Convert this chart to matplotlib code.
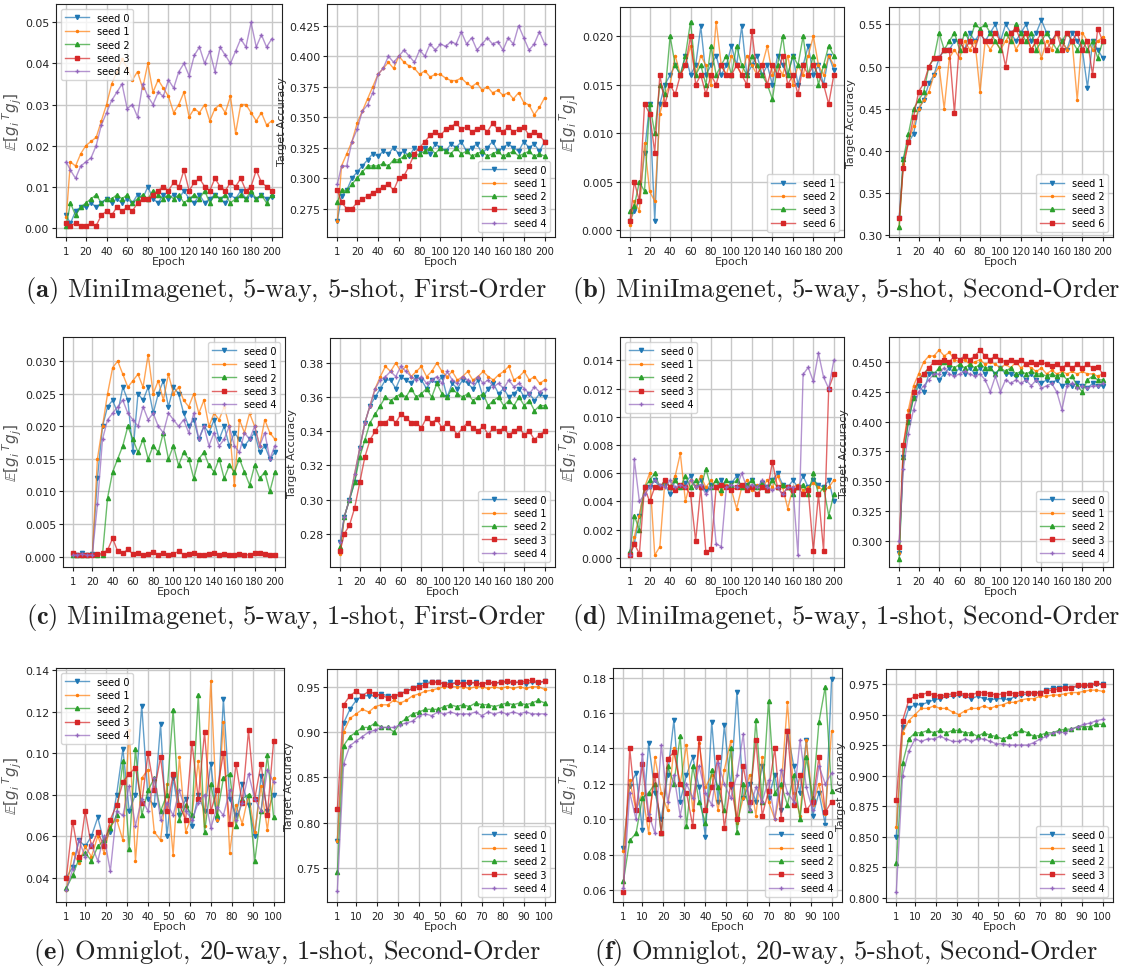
import matplotlib
matplotlib.use('Agg')
import matplotlib.pyplot as plt

ep200 = [1] + list(range(5, 201, 5))
ep100 = list(range(1, 101, 3))

# gradient alignment values are in units of 1e-3
a_grad = [
    [3, 1, 4, 5, 5, 6, 5, 6, 7, 6, 7, 6, 7, 6, 8, 7, 10, 7, 6, 8, 7, 8, 7, 9, 7, 6, 8, 6, 7, 8, 7, 6, 8, 7, 9, 7, 8, 7, 8, 7, 7.5],
    [2.5, 16, 15, 18, 20, 21, 22, 26, 30, 35, 38, 41, 39, 36, 38, 34, 40, 33, 36, 34, 32, 28, 30, 33, 27, 29, 28, 30, 26, 29, 30, 28, 32, 23, 30, 30, 28, 26, 28, 25, 26],
    [0.5, 6, 3, 5, 6, 7, 8, 6, 7, 7, 8, 7, 8, 6, 7, 8, 7, 9, 8, 7, 8, 7, 8, 6, 7, 8, 7, 9, 6, 8, 7, 8, 6, 7, 8, 7, 9, 7, 8, 6, 8],
    [1, 0.5, 1, 0.5, 0.5, 1, 0.5, 3, 4, 3, 5, 4, 5, 4, 6, 7, 7, 8, 9, 10, 9, 11, 10, 14, 9, 11, 12, 10, 9, 12, 10, 9, 11, 10, 12, 9, 10, 14, 11, 10, 9],
    [16, 14, 12, 15, 16, 17, 20, 25, 28, 31, 33, 35, 29, 30, 27, 35, 32, 30, 33, 32, 36, 34, 38, 40, 37, 42, 44, 40, 43, 38, 44, 42, 40, 43, 46, 44, 50, 44, 47, 44, 46],
]
a_acc = [
    [.265, .285, .29, .30, .305, .31, .315, .32, .318, .322, .32, .325, .32, .322, .318, .325, .322, .325, .32, .328, .325, .322, .328, .325, .33, .322, .325, .328, .32, .325, .33, .322, .325, .328, .325, .322, .33, .325, .328, .322, .33],
    [.265, .31, .32, .33, .345, .355, .365, .375, .385, .39, .395, .39, .40, .395, .392, .39, .385, .388, .383, .385, .385, .382, .38, .38, .382, .378, .375, .378, .372, .375, .37, .372, .368, .37, .365, .37, .362, .36, .352, .358, .366],
    [.28, .29, .29, .295, .30, .305, .31, .31, .31, .312, .31, .315, .315, .318, .32, .318, .32, .322, .325, .32, .325, .322, .32, .325, .32, .322, .318, .32, .322, .318, .32, .322, .318, .32, .322, .318, .32, .322, .318, .32, .318],
    [.29, .28, .275, .275, .28, .283, .285, .288, .29, .293, .295, .29, .30, .302, .31, .32, .325, .33, .335, .338, .335, .34, .342, .345, .34, .342, .338, .34, .342, .338, .345, .34, .338, .342, .338, .34, .342, .335, .338, .335, .33],
    [.295, .31, .31, .33, .34, .355, .36, .37, .385, .39, .40, .395, .40, .405, .40, .395, .405, .40, .41, .405, .41, .408, .412, .41, .42, .41, .415, .405, .41, .415, .41, .412, .405, .415, .41, .425, .415, .405, .41, .42, .41],
]

b_grad = [
    [1, 2, 3, 8, 13, 1, 13, 15, 16, 17, 16, 18, 16, 17, 21, 16, 17, 18, 16, 17, 19, 17, 21, 16, 17, 18, 16, 17, 15, 18, 17, 16, 18, 15, 17, 19, 16, 17, 15, 18, 16.5],
    [0.5, 3, 2, 9, 4, 3, 12, 14, 15, 18, 16, 17, 19, 16, 18, 17, 15, 21.5, 17, 16, 18, 17, 16, 18, 17, 16, 17, 19, 16, 17, 16, 18, 15, 17, 16, 18, 20, 17, 16, 18, 17],
    [2, 2.5, 5, 4, 13, 10, 15, 14, 20, 17, 16, 18, 21.5, 16, 17, 15, 19, 16, 17, 18, 16, 19, 17, 16, 18, 17, 16, 15, 13.5, 17, 20, 16, 18, 17, 20, 16, 18, 15, 17, 19, 18],
    [1, 5, 3, 13, 12, 8, 16, 13, 15, 14, 16, 17, 20, 15, 16, 14, 16, 15, 17, 16, 16, 17, 16, 15, 20.5, 16, 17, 15, 17, 16, 18, 15, 16, 14, 17, 16, 17, 16, 15, 13, 16],
]
b_acc = [
    [.32, .39, .41, .42, .45, .46, .48, .49, .51, .52, .52, .53, .53, .52, .54, .53, .54, .53, .54, .55, .53, .55, .54, .53, .54, .55, .53, .54, .555, .54, .53, .54, .53, .52, .54, .53, .52, .475, .53, .52, .51],
    [.31, .385, .41, .43, .45, .46, .47, .49, .50, .45, .51, .52, .51, .53, .52, .53, .47, .53, .52, .53, .52, .53, .54, .52, .53, .54, .52, .53, .51, .53, .52, .54, .53, .52, .53, .46, .54, .53, .52, .53, .535],
    [.31, .39, .42, .45, .46, .47, .50, .51, .54, .52, .53, .54, .52, .54, .53, .55, .545, .55, .54, .53, .52, .54, .53, .55, .54, .53, .54, .52, .53, .54, .53, .52, .53, .54, .53, .52, .53, .52, .53, .51, .53],
    [.32, .38, .41, .44, .47, .48, .50, .51, .51, .52, .52, .445, .53, .52, .53, .52, .54, .53, .53, .54, .53, .50, .54, .545, .53, .54, .52, .53, .54, .52, .53, .54, .52, .54, .53, .54, .52, .53, .49, .545, .53],
]

c_grad = [
    [0.3, 0.2, 0.5, 0.3, 0.4, 12, 20, 23, 24, 22, 26, 24, 16, 25, 24, 26, 22, 25, 27, 23, 26, 25, 22, 20, 21, 18, 20, 19, 21, 18, 20, 17, 19, 18, 17, 18, 19, 16, 17, 15, 16],
    [0.2, 0.3, 0.2, 0.4, 0.3, 15, 20, 25, 29, 30, 28, 26, 27, 28, 26, 31, 25, 27, 24, 28, 25, 26, 24, 23, 25, 22, 24, 20, 22, 21, 23, 20, 11, 21, 19, 22, 20, 17, 21, 19, 18],
    [0.2, 0.3, 0.2, 0.3, 0.4, 0.2, 0.3, 9, 13, 15, 17, 20, 18, 16, 18, 15, 17, 16, 19, 15, 17, 14, 16, 15, 12, 15, 16, 14, 13, 15, 12, 14, 13, 15, 13, 11, 14, 12, 13, 10, 13],
    [0.5, 0.3, 0.2, 0.3, 0.2, 0.4, 0.5, 1, 2.8, 0.8, 0.5, 1.1, 0.4, 0.6, 0.3, 0.4, 0.7, 0.3, 0.5, 0.3, 0.4, 0.8, 0.3, 0.4, 0.5, 0.3, 0.2, 0.4, 0.5, 0.3, 0.4, 0.2, 0.3, 0.4, 0.2, 0.3, 0.5, 0.6, 0.4, 0.2, 0.3],
    [0.2, 0.3, 0.4, 0.2, 0.3, 8, 18, 21, 22, 23, 24, 22, 21, 20, 23, 21, 22, 20, 19, 22, 21, 20, 21, 19, 22, 18, 20, 17, 19, 17, 18, 20, 17, 16, 19, 18, 20, 17, 19, 15, 17],
]
c_acc = [
    [.275, .29, .30, .31, .33, .345, .355, .36, .365, .37, .37, .365, .372, .37, .368, .372, .37, .365, .37, .368, .372, .36, .368, .365, .37, .368, .365, .37, .36, .365, .368, .362, .365, .36, .362, .365, .36, .362, .358, .362, .36],
    [.268, .29, .30, .315, .33, .345, .355, .365, .372, .378, .375, .38, .375, .378, .372, .375, .378, .372, .375, .38, .375, .372, .375, .37, .372, .375, .37, .372, .375, .372, .37, .373, .375, .378, .37, .372, .375, .37, .372, .368, .37],
    [.272, .29, .30, .31, .325, .335, .345, .35, .355, .36, .358, .36, .362, .36, .365, .36, .362, .365, .36, .368, .362, .36, .365, .362, .36, .362, .358, .36, .362, .355, .358, .36, .355, .358, .355, .36, .355, .358, .352, .355, .355],
    [.27, .28, .285, .295, .31, .325, .335, .34, .345, .345, .348, .345, .35, .348, .345, .345, .342, .348, .345, .347, .342, .345, .342, .338, .342, .345, .342, .34, .343, .338, .342, .34, .342, .338, .34, .342, .338, .34, .335, .338, .34],
    [.275, .29, .30, .315, .33, .345, .355, .365, .37, .372, .375, .372, .378, .375, .372, .37, .372, .368, .37, .372, .368, .375, .37, .368, .372, .37, .368, .372, .368, .37, .366, .368, .365, .37, .366, .368, .365, .362, .366, .363, .365],
]

d_grad = [
    [0.3, 1, 3, 5, 5, 5.5, 5, 5.2, 4.5, 5.5, 5, 5.3, 5.8, 5, 5.5, 4.8, 5.2, 5, 5.5, 5, 5.3, 5.8, 5, 5.2, 5.5, 5, 5.3, 5, 5.5, 6, 5.2, 5, 5.5, 5, 5.8, 5, 5.5, 5.2, 5, 5.5, 4],
    [0.2, 1.5, 3, 5, 6, 0.2, 0.8, 5.5, 5, 5.8, 7.4, 4, 5.5, 5, 5.8, 5, 5.5, 5, 4.5, 5.2, 4.8, 3.5, 5, 5.5, 4.8, 5.2, 5, 5.5, 5, 5.8, 5, 3.5, 5, 5.2, 4.8, 5, 5.3, 5, 4.8, 5, 5.5],
    [0.5, 3, 2, 5, 5.5, 6, 5, 5.5, 5, 5.5, 5, 5.8, 5, 5.5, 5, 6.3, 5, 5.5, 4.8, 5.5, 5.2, 5.5, 5, 5.2, 5.5, 5, 5.3, 4.8, 5.5, 5, 5.2, 5, 4.5, 5, 5.2, 4.5, 6, 4.5, 5, 3, 4.5],
    [0.2, 1, 0.3, 5, 4, 5, 5, 5.5, 5, 4.8, 5.2, 5, 4.5, 1.2, 5, 0.4, 0.6, 5, 5.2, 5, 4.8, 5, 5.2, 4.8, 5, 4.5, 5, 4.8, 6.8, 5, 4.5, 5, 4.8, 5, 4.5, 4.8, 0.5, 4.5, 0.5, 12, 13],
    [0.2, 7, 4, 4.5, 5, 5.5, 5.2, 5, 5.5, 5, 5.2, 5, 5.5, 5, 5.2, 4.5, 5, 1, 0.8, 5, 5.2, 5, 6, 5, 5.2, 5, 5.5, 5, 4.8, 5, 4.5, 5, 5, 0.2, 13, 13.5, 12.5, 14.5, 12.8, 12, 14],
]
d_acc = [
    [.29, .37, .40, .42, .43, .425, .44, .44, .435, .44, .445, .44, .445, .44, .445, .44, .445, .44, .445, .44, .445, .44, .44, .438, .44, .435, .44, .435, .432, .435, .432, .435, .43, .432, .43, .432, .43, .428, .432, .43, .43],
    [.29, .38, .41, .43, .44, .45, .455, .455, .46, .455, .458, .452, .45, .452, .448, .45, .452, .448, .45, .448, .445, .448, .445, .45, .445, .448, .445, .442, .445, .44, .443, .44, .442, .44, .442, .44, .442, .44, .44, .438, .44],
    [.285, .37, .40, .42, .435, .44, .445, .44, .445, .45, .448, .445, .448, .445, .448, .445, .448, .445, .445, .44, .445, .442, .445, .44, .442, .44, .442, .44, .44, .438, .44, .438, .44, .435, .438, .43, .425, .435, .438, .435, .435],
    [.295, .38, .405, .425, .435, .44, .445, .45, .45, .452, .45, .455, .452, .455, .452, .455, .46, .455, .452, .455, .452, .45, .452, .45, .452, .448, .45, .448, .45, .448, .447, .448, .445, .448, .445, .448, .445, .448, .445, .446, .44],
    [.30, .36, .39, .41, .425, .43, .435, .44, .44, .445, .44, .438, .44, .442, .44, .438, .44, .435, .425, .438, .425, .435, .432, .435, .432, .435, .43, .435, .428, .43, .432, .425, .41, .43, .432, .428, .43, .428, .43, .43, .432],
]

e_grad = [
    [40, 45, 58, 55, 60, 69, 57, 62, 80, 102, 72, 80, 123, 78, 75, 114, 60, 88, 70, 78, 65, 80, 72, 95, 68, 126, 78, 70, 85, 75, 60, 89, 72, 80],
    [34, 52, 47, 55, 50, 60, 52, 65, 68, 58, 111, 48, 88, 92, 62, 58, 85, 51, 98, 62, 70, 96, 65, 135, 68, 115, 52, 75, 66, 80, 62, 84, 63, 88],
    [35, 41, 49, 52, 48, 55, 58, 64, 70, 96, 54, 102, 70, 82, 88, 72, 80, 121, 68, 75, 70, 128, 62, 85, 70, 88, 90, 65, 78, 80, 48, 72, 99, 69],
    [40, 67, 50, 72, 55, 62, 55, 68, 75, 86, 90, 93, 76, 100, 82, 98, 72, 90, 75, 68, 105, 78, 110, 72, 82, 100, 66, 95, 76, 111, 78, 95, 70, 106],
    [34, 44, 58, 50, 56, 48, 60, 43, 72, 70, 84, 65, 78, 72, 88, 68, 76, 70, 82, 72, 68, 76, 80, 64, 74, 70, 82, 68, 76, 90, 78, 72, 92, 86],
]
e_acc = [
    [.78, .91, .925, .935, .94, .94, .94, .942, .94, .938, .942, .945, .948, .952, .955, .955, .955, .953, .955, .953, .955, .953, .955, .952, .955, .953, .955, .955, .954, .955, .953, .955, .954, .956],
    [.78, .90, .915, .92, .925, .922, .928, .93, .93, .935, .932, .935, .94, .942, .945, .946, .948, .95, .95, .95, .95, .948, .95, .95, .948, .95, .948, .95, .948, .95, .948, .95, .95, .947],
    [.745, .885, .895, .90, .905, .905, .91, .905, .905, .90, .91, .915, .92, .922, .925, .925, .925, .928, .93, .928, .93, .928, .932, .93, .93, .928, .93, .932, .93, .932, .93, .932, .935, .932],
    [.815, .93, .94, .945, .94, .945, .942, .94, .938, .94, .942, .945, .948, .95, .952, .955, .955, .953, .952, .955, .953, .955, .954, .953, .955, .954, .955, .956, .955, .955, .956, .957, .955, .956],
    [.725, .865, .885, .89, .895, .90, .902, .905, .905, .905, .908, .91, .912, .918, .92, .918, .922, .92, .922, .92, .92, .92, .922, .918, .922, .92, .922, .92, .922, .92, .922, .92, .92, .92],
]

f_grad = [
    [84, 119, 126, 94, 143, 115, 100, 125, 156, 110, 125, 135, 118, 90, 155, 110, 153, 118, 172, 112, 120, 110, 130, 112, 125, 105, 150, 130, 115, 145, 102, 115, 97, 179],
    [82, 122, 105, 115, 92, 135, 115, 105, 140, 120, 142, 105, 143, 118, 125, 105, 128, 144, 98, 112, 125, 102, 135, 110, 100, 118, 166, 115, 102, 145, 108, 120, 103, 150],
    [65, 88, 92, 112, 115, 120, 92, 130, 120, 147, 96, 130, 110, 98, 128, 118, 105, 140, 93, 120, 105, 156, 110, 167, 115, 120, 108, 125, 100, 135, 112, 155, 175, 116],
    [59, 140, 105, 131, 100, 125, 92, 134, 138, 120, 115, 96, 146, 105, 118, 135, 95, 120, 100, 130, 110, 145, 102, 116, 140, 100, 150, 108, 125, 105, 110, 135, 104, 110],
    [61, 115, 100, 137, 103, 92, 142, 110, 125, 102, 120, 112, 130, 115, 108, 132, 120, 112, 125, 148, 105, 118, 110, 122, 100, 128, 115, 110, 145, 118, 105, 130, 120, 126],
]
f_acc = [
    [.85, .94, .955, .958, .958, .96, .962, .963, .965, .965, .966, .965, .963, .965, .963, .962, .963, .963, .962, .965, .966, .967, .967, .968, .97, .972, .972, .973, .972, .973, .973, .974, .975, .975],
    [.858, .935, .945, .95, .955, .955, .957, .955, .955, .952, .95, .953, .955, .955, .957, .955, .957, .958, .96, .96, .962, .963, .963, .965, .965, .966, .966, .967, .968, .968, .969, .97, .97, .969],
    [.828, .91, .93, .935, .935, .937, .935, .937, .935, .937, .937, .935, .935, .932, .935, .933, .932, .93, .932, .935, .937, .935, .932, .933, .935, .935, .937, .938, .938, .94, .94, .94, .942, .942],
    [.88, .945, .962, .965, .966, .968, .966, .965, .966, .967, .968, .966, .966, .968, .968, .967, .966, .967, .968, .967, .968, .968, .968, .968, .969, .97, .971, .972, .972, .974, .974, .974, .976, .974],
    [.805, .90, .92, .93, .928, .93, .93, .932, .93, .928, .928, .93, .928, .93, .93, .928, .926, .926, .925, .925, .925, .925, .927, .93, .932, .935, .936, .935, .938, .94, .942, .943, .945, .946],
]

seeds5 = ['seed 0', 'seed 1', 'seed 2', 'seed 3', 'seed 4']
seeds_b = ['seed 1', 'seed 2', 'seed 3', 'seed 6']
xt200 = [1, 20, 40, 60, 80, 100, 120, 140, 160, 180, 200]
xt100 = [1, 10, 20, 30, 40, 50, 60, 70, 80, 90, 100]

colors = ['#1f77b4', '#ff7f0e', '#2ca02c', '#d62728', '#9467bd']
markers = ['v', '.', '^', 's', '+']

W, H = 1123, 970
fig = plt.figure(figsize=(W / 100, H / 100), dpi=100)


def px_axes(x0, x1, y0, y1):
    return fig.add_axes([x0 / W, 1 - y1 / H, (x1 - x0) / W, (y1 - y0) / H])


def draw(ax, epochs, series, labels, scale, xticks, ylim, yticks, loc, ylabel):
    for i, ys in enumerate(series):
        c = matplotlib.colors.to_rgba(colors[i])
        ax.plot(epochs, [v * scale for v in ys], color=(c[0], c[1], c[2], 0.7),
                lw=1.0, marker=markers[i], ms=3, mfc=colors[i], mec=colors[i],
                label=labels[i])
    ax.set_xticks(xticks)
    ax.set_ylim(ylim)
    ax.set_yticks(yticks)
    ax.grid(True, color='#c8c8c8', lw=1.0)
    ax.set_axisbelow(True)
    ax.tick_params(axis='y', labelsize=7.8, length=3, pad=2, colors='#222222')
    ax.tick_params(axis='x', labelsize=7.2, length=3, colors='#222222')
    ax.set_xlabel('Epoch', fontsize=8, labelpad=0, color='#333333')
    if ylabel == 'grad':
        ax.set_ylabel(r'$\mathbb{E}[g_i\,^T g_j]$', fontsize=11, color='#555555', labelpad=0.5)
    else:
        ax.set_ylabel('Target Accuracy', fontsize=8, labelpad=1.5, color='#333333')
    ax.legend(loc=loc, fontsize=7, labelspacing=0.35, handlelength=2.5, borderpad=0.4)
    for s in ax.spines.values():
        s.set_color('#222222')


def frange(a, b, step):
    n = int(round((b - a) / step))
    return [round(a + k * step, 4) for k in range(n + 1)]


# row 1
draw(px_axes(56, 282, 5, 238), ep200, a_grad, seeds5, 1e-3, xt200,
     (-0.0023, 0.0545), frange(0, 0.05, 0.01), 'upper left', 'grad')
draw(px_axes(327, 555, 5, 238), ep200, a_acc, seeds5, 1, xt200,
     (0.2517, 0.4428), frange(0.275, 0.425, 0.025), 'lower right', 'acc')
draw(px_axes(620, 844, 8, 238), ep200, b_grad, seeds_b, 1e-3, xt200,
     (-0.0007, 0.023), frange(0, 0.02, 0.005), 'lower right', 'grad')
draw(px_axes(889, 1113, 8, 238), ep200, b_acc, seeds_b, 1, xt200,
     (0.298, 0.5705), frange(0.30, 0.55, 0.05), 'lower right', 'acc')

# row 2
draw(px_axes(63, 285, 338, 568), ep200, c_grad, seeds5, 1e-3, xt200,
     (-0.0016, 0.0337), frange(0, 0.03, 0.005), 'upper right', 'grad')
draw(px_axes(330, 555, 339, 568), ep200, c_acc, seeds5, 1, xt200,
     (0.2605, 0.3946), frange(0.28, 0.38, 0.02), 'lower right', 'acc')
draw(px_axes(620, 844, 338, 568), ep200, d_grad, seeds5, 1e-3, xt200,
     (-0.00064, 0.01565), frange(0, 0.014, 0.002), 'upper left', 'grad')
draw(px_axes(889, 1113, 338, 568), ep200, d_acc, seeds5, 1, xt200,
     (0.2782, 0.4709), frange(0.30, 0.45, 0.025), 'lower right', 'acc')

# row 3
draw(px_axes(56, 284, 669, 903), ep100, e_grad, seeds5, 1e-3, xt100,
     (0.0282, 0.1411), frange(0.04, 0.14, 0.02), 'upper left', 'grad')
draw(px_axes(327, 555, 670, 903), ep100, e_acc, seeds5, 1, xt100,
     (0.7124, 0.9695), frange(0.75, 0.95, 0.05), 'lower right', 'acc')
draw(px_axes(613, 842, 669, 903), ep100, f_grad, seeds5, 1e-3, xt100,
     (0.0532, 0.1855), frange(0.06, 0.18, 0.02), 'lower right', 'grad')
draw(px_axes(886, 1113, 670, 903), ep100, f_acc, seeds5, 1, xt100,
     (0.7964, 0.9873), frange(0.800, 0.975, 0.025), 'lower right', 'acc')

captions = [
    (286, 290, r'$\mathbf{(a)}$ MiniImagenet, 5-way, 5-shot, First-Order'),
    (846, 290, r'$\mathbf{(b)}$ MiniImagenet, 5-way, 5-shot, Second-Order'),
    (286, 618, r'$\mathbf{(c)}$ MiniImagenet, 5-way, 1-shot, First-Order'),
    (846, 618, r'$\mathbf{(d)}$ MiniImagenet, 5-way, 1-shot, Second-Order'),
    (287, 953, r'$\mathbf{(e)}$ Omniglot, 20-way, 1-shot, Second-Order'),
    (846, 953, r'$\mathbf{(f)}$ Omniglot, 20-way, 5-shot, Second-Order'),
]
for cx, cy, txt in captions:
    fig.text(cx / W, 1 - cy / H, txt, family='cmr10', math_fontfamily='cm',
             fontsize=19, ha='center', va='center', color='#222222')

fig.savefig('out.png', dpi=100)
